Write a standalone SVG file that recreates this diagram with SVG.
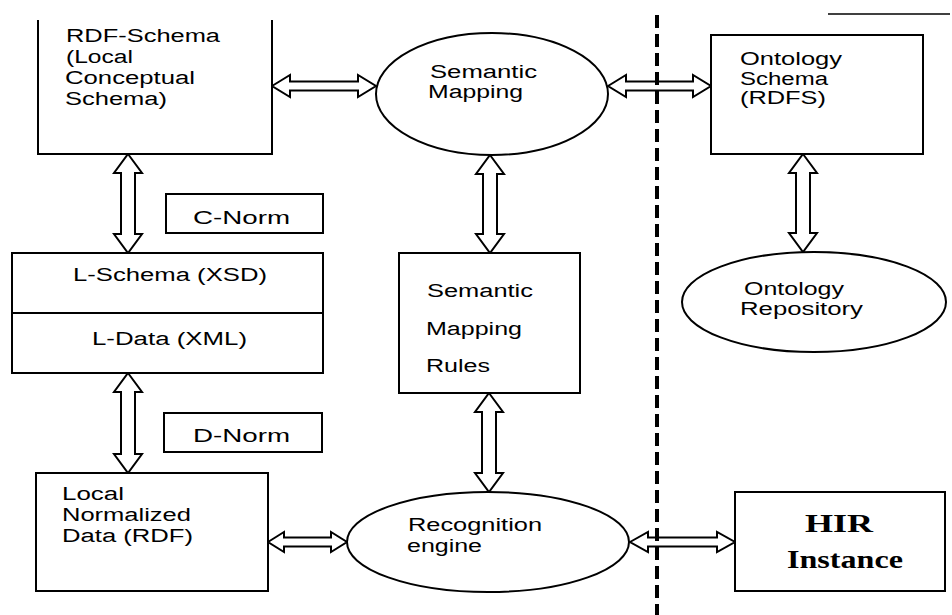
<svg xmlns="http://www.w3.org/2000/svg" width="952" height="615" viewBox="0 0 952 615">
<style>
.box{fill:#fff;stroke:#000;stroke-width:2}
.t{font-family:"Liberation Sans",Arial,sans-serif;font-size:18px;fill:#000}
.hir{font-family:"Liberation Serif","Times New Roman",serif;font-size:25px;font-weight:bold;fill:#000}
.arr{fill:#fff;stroke:#000;stroke-width:2;stroke-linejoin:miter}
.div{stroke:#000;stroke-width:4;stroke-dasharray:13 6;fill:none}
</style>
<rect width="952" height="615" fill="#fff"/>
<line x1="828" y1="14" x2="950" y2="14" stroke="#000" stroke-width="1.5"/>
<g id="connectors">
<path class="arr" d="M272 86 L290 75 L290 81.5 L358 81.5 L358 75 L376 86 L358 97 L358 90.5 L290 90.5 L290 97 Z"/>
<path class="arr" d="M608 86 L626 75 L626 81.5 L693 81.5 L693 75 L711 86 L693 97 L693 90.5 L626 90.5 L626 97 Z"/>
<path class="arr" d="M128 154 L142 173 L135 173 L135 234 L142 234 L128 253 L114 234 L121 234 L121 173 L114 173 Z"/>
<path class="arr" d="M128 373 L142 392 L135 392 L135 454 L142 454 L128 473 L114 454 L121 454 L121 392 L114 392 Z"/>
<path class="arr" d="M490 155 L504 174 L497 174 L497 234 L504 234 L490 253 L476 234 L483 234 L483 174 L476 174 Z"/>
<path class="arr" d="M489 393 L503 412 L496 412 L496 473 L503 473 L489 492 L475 473 L482 473 L482 412 L475 412 Z"/>
<path class="arr" d="M803 154 L817 173 L810 173 L810 233 L817 233 L803 252 L789 233 L796 233 L796 173 L789 173 Z"/>
<path class="arr" d="M268 542 L284 532 L284 537.5 L331 537.5 L331 532 L347 542 L331 552 L331 546.5 L284 546.5 L284 552 Z"/>
<path class="arr" d="M630 542 L648 532 L648 537.5 L717 537.5 L717 532 L735 542 L717 552 L717 546.5 L648 546.5 L648 552 Z"/>
</g>
<line class="div" x1="657" y1="15" x2="657" y2="615"/>
<g id="rdf-schema">
<path d="M38 20 L38 154 L272 154 L272 20" fill="#fff" stroke="#000" stroke-width="2"/>
<text class="t" x="66" y="42" textLength="154" lengthAdjust="spacingAndGlyphs">RDF-Schema</text>
<text class="t" x="66" y="63" textLength="67" lengthAdjust="spacingAndGlyphs">(Local</text>
<text class="t" x="65" y="84" textLength="130" lengthAdjust="spacingAndGlyphs">Conceptual</text>
<text class="t" x="65" y="105" textLength="102" lengthAdjust="spacingAndGlyphs">Schema)</text>
</g>
<g id="semantic-mapping">
<ellipse class="box" cx="492" cy="94" rx="116" ry="61"/>
<text class="t" x="430" y="78" textLength="107" lengthAdjust="spacingAndGlyphs">Semantic</text>
<text class="t" x="428" y="98" textLength="95" lengthAdjust="spacingAndGlyphs">Mapping</text>
</g>
<g id="ontology-schema">
<rect class="box" x="711" y="35" width="212" height="119"/>
<text class="t" x="740" y="65" textLength="102" lengthAdjust="spacingAndGlyphs">Ontology</text>
<text class="t" x="740" y="85" textLength="88" lengthAdjust="spacingAndGlyphs">Schema</text>
<text class="t" x="740" y="104" textLength="86" lengthAdjust="spacingAndGlyphs">(RDFS)</text>
</g>
<g id="c-norm">
<rect class="box" x="166" y="194" width="157" height="39"/>
<text class="t" x="193" y="224" textLength="97" lengthAdjust="spacingAndGlyphs">C-Norm</text>
</g>
<g id="l-schema">
<rect class="box" x="12" y="253" width="311" height="120"/>
<line x1="12" y1="313" x2="323" y2="313" stroke="#000" stroke-width="2"/>
<text class="t" x="73" y="281" textLength="194" lengthAdjust="spacingAndGlyphs">L-Schema (XSD)</text>
<text class="t" x="92" y="345" textLength="155" lengthAdjust="spacingAndGlyphs">L-Data (XML)</text>
</g>
<g id="semantic-mapping-rules">
<rect class="box" x="399" y="253" width="181" height="140"/>
<text class="t" x="427" y="297" textLength="106" lengthAdjust="spacingAndGlyphs">Semantic</text>
<text class="t" x="426" y="335" textLength="96" lengthAdjust="spacingAndGlyphs">Mapping</text>
<text class="t" x="426" y="372" textLength="64" lengthAdjust="spacingAndGlyphs">Rules</text>
</g>
<g id="ontology-repository">
<ellipse class="box" cx="814" cy="302" rx="132" ry="50"/>
<text class="t" x="744" y="295" textLength="100" lengthAdjust="spacingAndGlyphs">Ontology</text>
<text class="t" x="740" y="315" textLength="123" lengthAdjust="spacingAndGlyphs">Repository</text>
</g>
<g id="d-norm">
<rect class="box" x="164" y="413" width="158" height="39"/>
<text class="t" x="193" y="442" textLength="97" lengthAdjust="spacingAndGlyphs">D-Norm</text>
</g>
<g id="local-normalized-data">
<rect class="box" x="36" y="473" width="232" height="118"/>
<text class="t" x="62" y="500" textLength="62" lengthAdjust="spacingAndGlyphs">Local</text>
<text class="t" x="62" y="521" textLength="129" lengthAdjust="spacingAndGlyphs">Normalized</text>
<text class="t" x="62" y="542" textLength="131" lengthAdjust="spacingAndGlyphs">Data (RDF)</text>
</g>
<g id="recognition-engine">
<ellipse class="box" cx="488" cy="542" rx="141" ry="50"/>
<text class="t" x="408" y="531" textLength="134" lengthAdjust="spacingAndGlyphs">Recognition</text>
<text class="t" x="407" y="552" textLength="75" lengthAdjust="spacingAndGlyphs">engine</text>
</g>
<g id="hir-instance">
<rect class="box" x="735" y="492" width="210" height="99"/>
<text class="hir" x="805" y="532" textLength="68" lengthAdjust="spacingAndGlyphs">HIR</text>
<text class="hir" x="787" y="568" textLength="116" lengthAdjust="spacingAndGlyphs">Instance</text>
</g>
</svg>
